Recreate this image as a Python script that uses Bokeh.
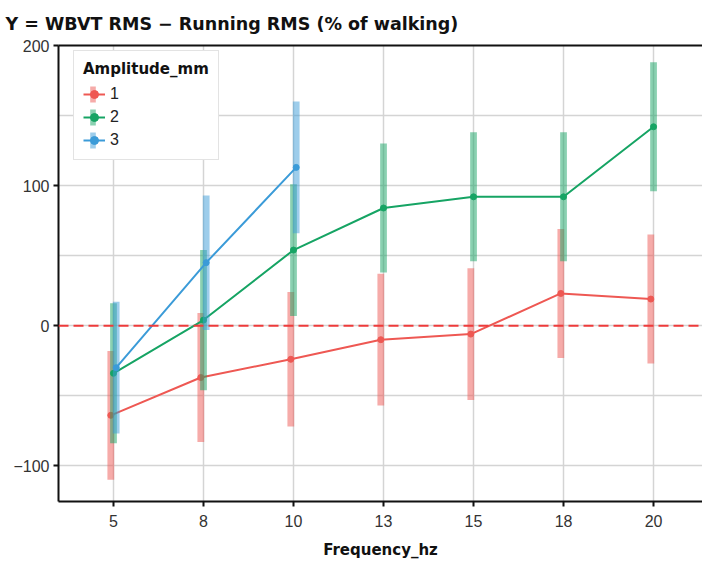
import numpy as np
from bokeh.plotting import figure
from bokeh.models import (Range1d, FixedTicker, SingleIntervalTicker, LinearAxis,
                          Span, Legend, LegendItem, ColumnDataSource)
from bokeh.embed import file_html
from bokeh.resources import INLINE

freq_labels = ["5", "8", "10", "13", "15", "18", "20"]

amp_labels = ["1", "2", "3"]
mean_1 = [-64, -37, -24, -10, -6, 23, 19]
err_1 = [46, 46, 48, 47, 47, 46, 46]
mean_2 = [-34, 4, 54, 84, 92, 92, 142]
err_2 = [50, 50, 47, 46, 46, 46, 46]
mean_3 = [-30, 45, 113]
err_3 = [47, 48, 47]

colors = ["#EE5853", "#16A464", "#3B9BD8"]
dodges = [-0.03, 0.0, 0.03]
means = [mean_1, mean_2, mean_3]
errs = [err_1, err_2, err_3]

TICK_FONT = "Liberation Sans"
BOLD_FONT = "DejaVu Sans"

p = figure(width=702, height=562, output_backend="svg", toolbar_location=None,
           x_range=Range1d(-0.611, 6.544), y_range=Range1d(-125.5, 200),
           min_border_left=58, min_border_right=0, min_border_top=45,
           min_border_bottom=61, outline_line_color=None,
           background_fill_color="white", border_fill_color="white")

p.title.text = "Y = WBVT RMS \u2212 Running RMS (% of walking)"
p.title.text_font = BOLD_FONT
p.title.text_font_size = "17.5px"
p.title.text_font_style = "bold"
p.title.text_color = "#111111"
p.title.align = "left"
p.title.offset = -53
p.title.standoff = 23

idx = list(range(len(freq_labels)))

# axes
p.xaxis.ticker = FixedTicker(ticks=idx)
p.xaxis.major_label_overrides = {i: lab for i, lab in enumerate(freq_labels)}
p.xaxis.axis_label = "Frequency_hz"
p.yaxis.ticker = SingleIntervalTicker(interval=100)
for ax in (p.xaxis[0], p.yaxis[0]):
    ax.axis_line_color = "#111111"
    ax.axis_line_width = 2
    ax.major_tick_line_color = "#111111"
    ax.major_tick_line_width = 2
    ax.major_tick_out = 5
    ax.major_tick_in = 0
    ax.minor_tick_line_color = None
    ax.major_label_text_font = TICK_FONT
    ax.major_label_text_font_size = "16px"
    ax.major_label_text_color = "#333333"
    ax.axis_label_text_font = BOLD_FONT
    ax.axis_label_text_font_size = "15px"
    ax.axis_label_text_font_style = "bold"
    ax.axis_label_text_color = "#111111"
p.xaxis.major_label_standoff = 8
p.xaxis.axis_label_standoff = 11
p.yaxis.major_label_standoff = 4

top_axis = LinearAxis(ticker=FixedTicker(ticks=[]), axis_line_color="#111111",
                      axis_line_width=2, major_tick_line_color=None,
                      minor_tick_line_color=None, major_label_standoff=0,
                      major_tick_out=0, major_tick_in=0)
p.add_layout(top_axis, "above")

# grids
p.xgrid.ticker = FixedTicker(ticks=idx)
p.ygrid.ticker = SingleIntervalTicker(interval=50)
p.xgrid.grid_line_color = "#d4d4d4"
p.ygrid.grid_line_color = "#d4d4d4"
p.xgrid.grid_line_width = 1.5
p.ygrid.grid_line_width = 1.5

p.add_layout(Span(location=0, dimension="width", line_color="#EE3B3B",
                  line_dash="10 5", line_width=2))

items = []
bar_items = []
for k in range(3):
    m = np.array(means[k], dtype=float)
    e = np.array(errs[k], dtype=float)
    x = np.arange(len(m)) + dodges[k]
    src = ColumnDataSource(dict(x=x, m=m, lo=m - e, hi=m + e))
    r_bar = p.vbar(x="x", bottom="lo", top="hi", width=0.075, source=src,
                   fill_color=colors[k], fill_alpha=0.5, line_color=None)
    r_line = p.line("x", "m", source=src, line_color=colors[k], line_width=2)
    r_pt = p.scatter("x", "m", source=src, size=6, fill_color=colors[k],
                     line_color=colors[k])
    items.append(LegendItem(label=amp_labels[k], renderers=[r_line, r_pt]))
    bar_items.append(LegendItem(label="", renderers=[r_bar]))

legend = Legend(items=items, location=(15, 341), title="Amplitude_mm",
                title_text_font=BOLD_FONT, title_text_font_style="bold",
                title_text_font_size="15px", title_standoff=6,
                title_text_color="#111111",
                label_text_font=TICK_FONT, label_text_font_size="16px",
                label_text_color="#222222", glyph_width=22,
                glyph_height=20, label_height=20, spacing=3, padding=9, margin=0,
                border_line_color="#c8c8c8", border_line_width=1.5,
                background_fill_color="white", background_fill_alpha=1)
p.add_layout(legend)

# overlay legend supplying the vertical error-bar swatch of each entry
bar_legend = Legend(items=bar_items, location=(31, 351), glyph_width=7,
                    glyph_height=20, label_height=20, spacing=3, padding=9,
                    margin=0, label_standoff=0,
                    border_line_color=None, background_fill_alpha=0)
p.add_layout(bar_legend)

open("out.html", "w").write(file_html(p, INLINE))
